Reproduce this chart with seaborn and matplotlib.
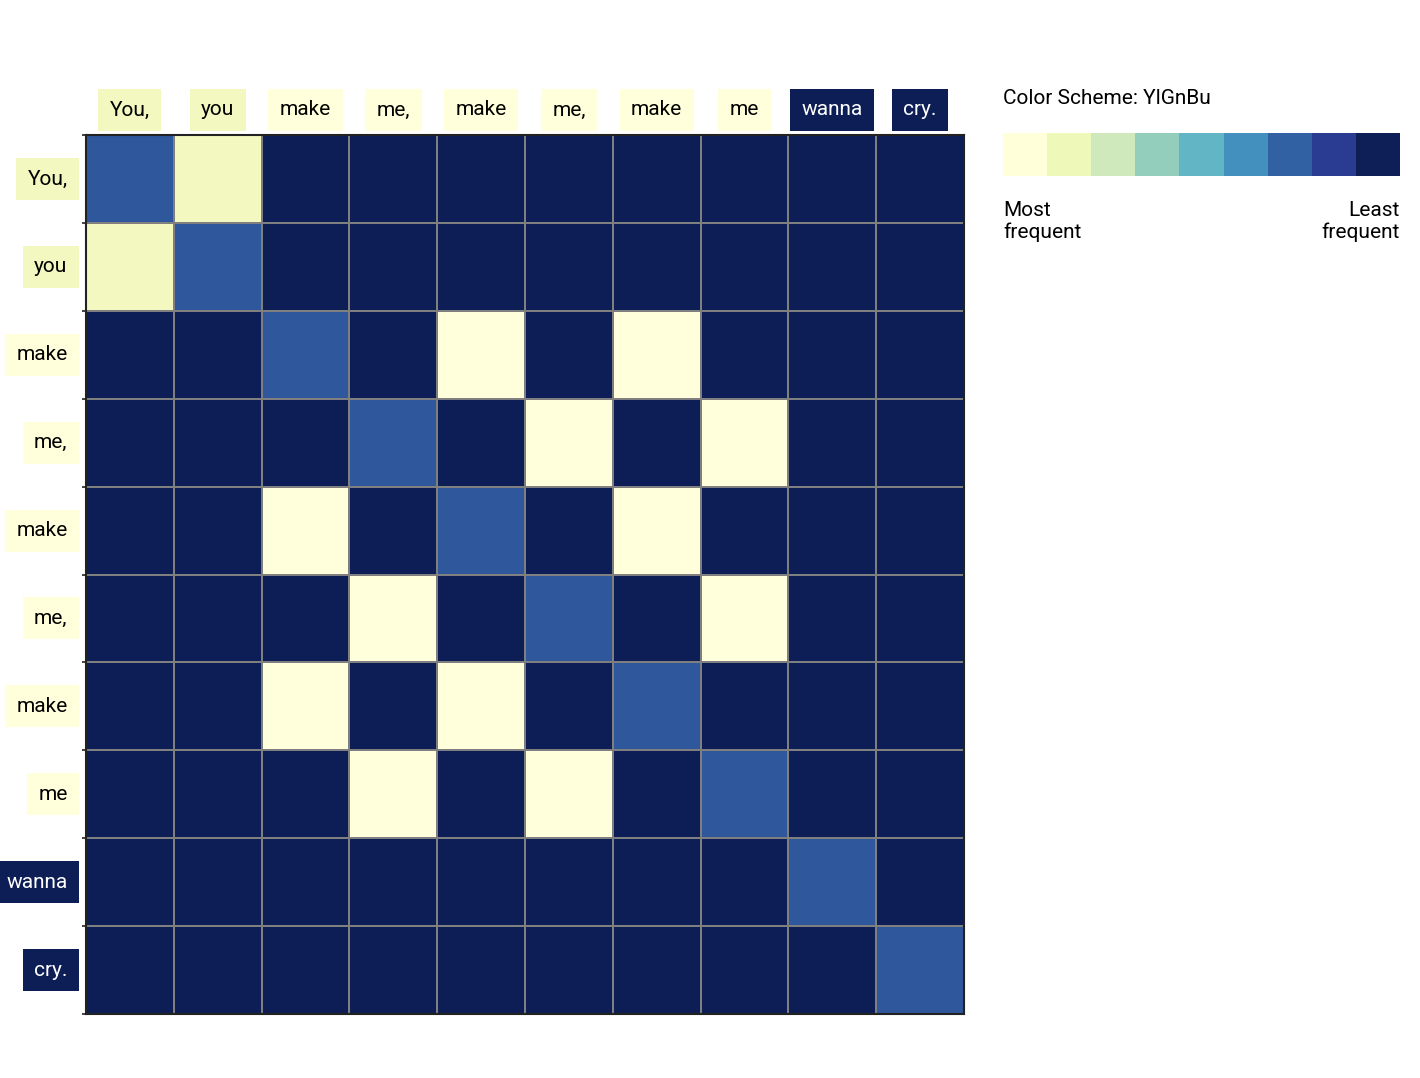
import string

import matplotlib
matplotlib.use("Agg")

import matplotlib.pyplot as plt
import numpy as np
import pandas as pd
import seaborn as sns
from matplotlib.colors import ListedColormap
from matplotlib.transforms import blended_transform_factory

sns.set_style("white")
plt.rcParams["font.family"] = ["Roboto", "DejaVu Sans"]

# lyric tokens shown on both axes
words = ["You,", "you", "make", "me,", "make", "me,", "make", "me", "wanna", "cry."]

# colours used for matrix cells: repeated word by frequency rank, diagonal, no match
freq_colors = {3: "#ffffdb", 2: "#f2f8c0", 1: "#0d1e56"}
diag_color = "#2e579c"
none_color = "#0d1e56"

# colour scheme swatches shown at the right
legend_colors = ["#ffffda", "#eef8b8", "#cfe8bc", "#93cebd", "#62b5c4",
                 "#438fbd", "#3160a3", "#293c92", "#0e1f58"]


def norm(w):
    return w.lower().strip(string.punctuation)


keys = [norm(w) for w in words]
counts = pd.Series(keys).value_counts()

palette = [freq_colors[3], freq_colors[2], diag_color, none_color]
n = len(words)
mat = np.full((n, n), 3)
for i in range(n):
    for j in range(n):
        if i == j:
            mat[i, j] = 2
        elif keys[i] == keys[j]:
            mat[i, j] = 0 if counts[keys[i]] >= 3 else 1

fig = plt.figure(figsize=(14.2, 10.78), dpi=100)
ax = fig.add_axes([86 / 1420, 64 / 1078, 878 / 1420, 879 / 1078])
sns.heatmap(mat, ax=ax, cmap=ListedColormap(palette), vmin=-0.5, vmax=3.5,
            cbar=False, linewidths=1.1, linecolor="#7f7f7f", square=False)

for s in ax.spines.values():
    s.set_visible(True)
    s.set_color("#222222")
    s.set_linewidth(1.5)

ax.set_xticks([])
ax.set_yticks(np.arange(n + 1))
ax.set_yticklabels([])
ax.tick_params(axis="y", length=3, width=1.2, color="#222222", left=True)

word_bg = []
for k in keys:
    c = counts[k]
    word_bg.append(freq_colors[3] if c >= 3 else freq_colors[2] if c == 2 else none_color)

tr_top = blended_transform_factory(ax.transData, ax.transAxes)
tr_left = blended_transform_factory(ax.transAxes, ax.transData)
for i, w in enumerate(words):
    bg = word_bg[i]
    fg = "white" if bg == none_color else "black"
    box = dict(boxstyle="square,pad=0.55", fc=bg, ec="none")
    ax.text(i + 0.5, 1.0285, w, transform=tr_top, ha="center", va="center",
            fontsize=15, color=fg, bbox=box, clip_on=False)
    ax.text(-0.021, i + 0.5, w, transform=tr_left, ha="right", va="center",
            fontsize=15, color=fg, bbox=box, clip_on=False)

# colour scheme legend
lax = fig.add_axes([1003 / 1420, (1078 - 176) / 1078, 397 / 1420, 43 / 1078])
sns.heatmap(np.arange(len(legend_colors)).reshape(1, -1), ax=lax,
            cmap=ListedColormap(legend_colors), cbar=False,
            xticklabels=False, yticklabels=False)

fig.text(1003 / 1420, 1 - 98 / 1078, "Color Scheme: YlGnBu", ha="left", va="center",
         fontsize=15, color="black")
fig.text(1003 / 1420, 1 - 201 / 1078, "Most\nfrequent", ha="left", va="top",
         fontsize=15, color="black", linespacing=1.15)
fig.text(1400 / 1420, 1 - 201 / 1078, "Least\nfrequent", ha="right", va="top",
         fontsize=15, color="black", linespacing=1.15, multialignment="right")

fig.savefig("out.png", dpi=100)
